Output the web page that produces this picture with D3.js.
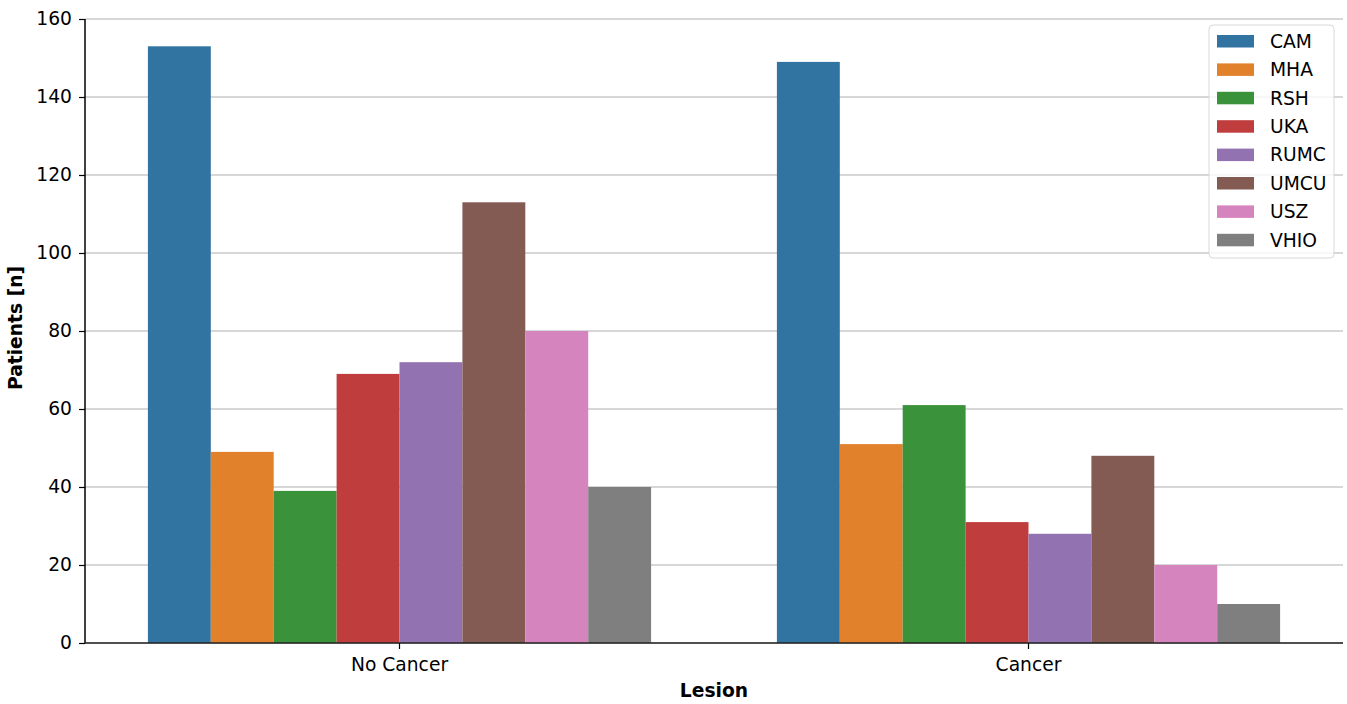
<!DOCTYPE html>
<html>
<head>
<meta charset="utf-8">
<script src="https://cdn.jsdelivr.net/npm/d3@7"></script>
<style>
  html, body { margin: 0; padding: 0; background: #fff; }
  svg { display: block; font-family: "DejaVu Sans", sans-serif; }
</style>
</head>
<body>
<svg id="chart" width="1347" height="704"></svg>
<script>
// Patient counts per centre, split by lesion class
const lesions = ["No Cancer", "Cancer"];
const centres = ["CAM", "MHA", "RSH", "UKA", "RUMC", "UMCU", "USZ", "VHIO"];
const noCancer = [153, 49, 39, 69, 72, 113, 80, 40];
const cancer   = [149, 51, 61, 31, 28, 48, 20, 10];
const palette  = ["#3274a1", "#e1812c", "#3a923a", "#c03d3e", "#9372b2", "#845b53", "#d684bd", "#7f7f7f"];
const yTicks   = [0, 20, 40, 60, 80, 100, 120, 140, 160];

const FS = 18.7;

const valuesByLesion = { "No Cancer": noCancer, "Cancer": cancer };
const rows = [];
lesions.forEach(l => centres.forEach((c, i) => rows.push({ lesion: l, centre: c, value: valuesByLesion[l][i] })));

const svg = d3.select("#chart");
const margin = { left: 85, right: 4, top: 19, bottom: 61 };
const W = 1347, H = 704;

const x = d3.scaleBand().domain(lesions).range([margin.left, W - margin.right]).paddingInner(0).paddingOuter(0);
const xInner = d3.scaleBand().domain(centres).range([0, x.bandwidth() * 0.8]);
const y = d3.scaleLinear().domain([0, 160]).range([H - margin.bottom, margin.top]);
const color = d3.scaleOrdinal().domain(centres).range(palette);

// horizontal grid
svg.append("g")
  .selectAll("line")
  .data(yTicks)
  .join("line")
  .attr("x1", margin.left).attr("x2", W - margin.right)
  .attr("y1", d => y(d)).attr("y2", d => y(d))
  .attr("stroke", "#b0b0b0").attr("stroke-width", 1.1);

// bars
svg.append("g")
  .selectAll("rect")
  .data(rows)
  .join("rect")
  .attr("x", d => x(d.lesion) + x.bandwidth() * 0.1 + xInner(d.centre))
  .attr("width", xInner.bandwidth())
  .attr("y", d => y(d.value))
  .attr("height", d => y(0) - y(d.value))
  .attr("fill", d => color(d.centre));

// y axis
const yAxis = svg.append("g")
  .attr("transform", `translate(${margin.left},0)`)
  .call(d3.axisLeft(y).tickValues(yTicks).tickSize(6).tickPadding(7));
yAxis.select(".domain").attr("stroke", "#000").attr("stroke-width", 1.5).attr("d", `M0,${y(0)}V${y(160)}`);
yAxis.selectAll(".tick line").attr("stroke", "#000").attr("stroke-width", 1.2);
yAxis.selectAll(".tick text").attr("font-size", FS).attr("fill", "#000").attr("font-family", "DejaVu Sans");

// x axis
const xAxis = svg.append("g")
  .attr("transform", `translate(0,${y(0)})`)
  .call(d3.axisBottom(x).tickSize(6).tickPadding(9));
xAxis.select(".domain").attr("stroke", "#222").attr("stroke-width", 1.5).attr("d", `M${margin.left},0H${W - margin.right}`);
xAxis.selectAll(".tick line").attr("stroke", "#000").attr("stroke-width", 1.2);
xAxis.selectAll(".tick text").attr("font-size", FS).attr("fill", "#000").attr("font-family", "DejaVu Sans");

// axis titles
svg.append("text")
  .attr("x", (margin.left + W - margin.right) / 2).attr("y", 697)
  .attr("text-anchor", "middle").attr("font-size", FS).attr("font-weight", "bold")
  .text("Lesion");
svg.append("text")
  .attr("transform", `translate(22,328) rotate(-90)`)
  .attr("text-anchor", "middle").attr("font-size", FS).attr("font-weight", "bold")
  .text("Patients [n]");

// legend
const lg = svg.append("g").attr("transform", "translate(1209,25)");
lg.append("rect")
  .attr("width", 125).attr("height", 233).attr("rx", 4)
  .attr("fill", "#fff").attr("fill-opacity", 0.8)
  .attr("stroke", "#d8d8d8").attr("stroke-width", 1);
const item = lg.selectAll("g.item").data(centres).join("g")
  .attr("class", "item")
  .attr("transform", (d, i) => `translate(8,${16 + i * 28.4})`);
item.append("rect")
  .attr("x", 0).attr("y", -6).attr("width", 37).attr("height", 12.5)
  .attr("fill", d => color(d));
item.append("text")
  .attr("x", 53).attr("y", 0).attr("dy", "0.36em")
  .attr("font-size", FS).attr("fill", "#000")
  .text(d => d);
</script>
</body>
</html>
